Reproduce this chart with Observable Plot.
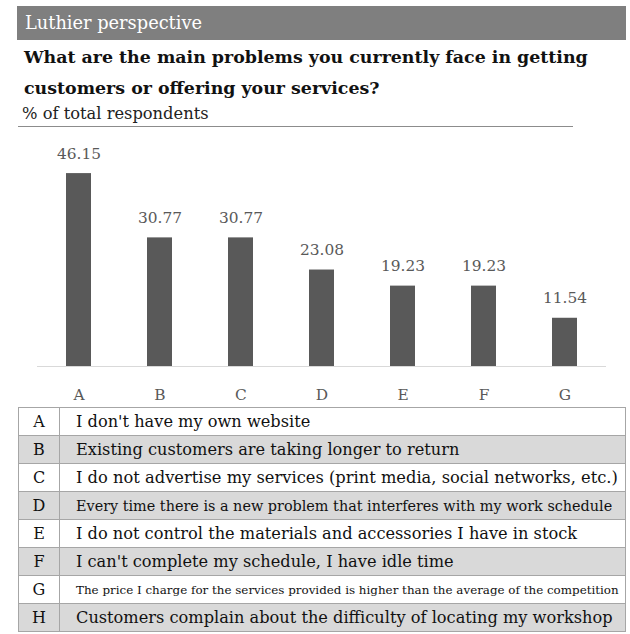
<!DOCTYPE html>
<html>
<head>
<meta charset="utf-8">
<script src="https://cdn.jsdelivr.net/npm/d3@7"></script>
<script src="https://cdn.jsdelivr.net/npm/@observablehq/plot@0.6"></script>
<style>
  body { margin:0; background:#fff; }
  #wrap { position:relative; width:630px; height:634px; font-family:"DejaVu Serif", serif; }
  #hdr { position:absolute; left:17px; top:6px; width:609px; height:34px; background:#7f7f7f; color:#fff;
         font-size:17.8px; line-height:34px; padding-left:8px; box-sizing:border-box; }
  #title { position:absolute; left:24px; top:42px; font-size:17.4px; font-weight:bold; line-height:31px; color:#111; white-space:nowrap; }
  #sub { position:absolute; left:22px; top:104px; font-size:16.3px; line-height:20px; color:#222; }
  #rule { position:absolute; left:18px; top:126px; width:555px; height:0; border-top:1px solid #8c8c8c; }
  #chart { position:absolute; left:0; top:130px; }
  #tbl { position:absolute; left:18px; top:407px; width:608px; border-collapse:collapse; }
  #tbl td { border:1px solid #a6a6a6; height:27px; padding:0; color:#111; font-size:16px; }
  #tbl td.k { width:40px; text-align:center; }
  #tbl td.v { padding-left:16px; white-space:nowrap; }
  #tbl tr.alt td { background:#d9d9d9; }
</style>
</head>
<body>
<div id="wrap">
  <div id="hdr"></div>
  <div id="title"></div>
  <div id="sub"></div>
  <div id="rule"></div>
  <div id="chart"></div>
  <table id="tbl"></table>
</div>
<script>
const headerText = "Luthier perspective";
const titleLines = ["What are the main problems you currently face in getting", "customers or offering your services?"];
const subtitleText = "% of total respondents";

const categories = ["A", "B", "C", "D", "E", "F", "G"];
const values = [46.15, 30.77, 30.77, 23.08, 19.23, 19.23, 11.54];

const tableLetters = ["A", "B", "C", "D", "E", "F", "G", "H"];
const tableLabels = [
  "I don't have my own website",
  "Existing customers are taking longer to return",
  "I do not advertise my services (print media, social networks, etc.)",
  "Every time there is a new problem that interferes with my work schedule",
  "I do not control the materials and accessories I have in stock",
  "I can't complete my schedule, I have idle time",
  "The price I charge for the services provided is higher than the average of the competition",
  "Customers complain about the difficulty of locating my workshop"
];
const tableFontSizes = [16.2, 16.2, 16.3, 14.4, 16.2, 16.2, 11.9, 16.2];

document.getElementById("hdr").textContent = headerText;
const t = document.getElementById("title");
titleLines.forEach((line, i) => {
  if (i) t.appendChild(document.createElement("br"));
  t.appendChild(document.createTextNode(line));
});
document.getElementById("sub").textContent = subtitleText;

const data = categories.map((c, i) => ({cat: c, value: values[i]}));

const chart = Plot.plot({
  width: 630,
  height: 275,
  marginLeft: 37,
  marginRight: 24,
  marginTop: 27,
  marginBottom: 39,
  x: {domain: categories, paddingInner: 0.69, paddingOuter: 0.35, label: null},
  y: {domain: [0, 50], axis: null},
  style: {fontFamily: "DejaVu Serif", fontSize: "15px", color: "#595959", background: "transparent", overflow: "visible"},
  marks: [
    Plot.barY(data, {x: "cat", y: "value", fill: "#595959"}),
    Plot.ruleY([0], {stroke: "#d9d9d9", strokeWidth: 1.2}),
    Plot.text(data, {x: "cat", y: "value", text: d => d.value.toFixed(2), dy: -20, fill: "#595959", fontSize: 15.4}),
    Plot.axisX({tickSize: 0, tickPadding: 23, fontSize: 15.4, label: null, fill: "#595959"})
  ]
});
document.getElementById("chart").appendChild(chart);

const tbl = document.getElementById("tbl");
tableLetters.forEach((k, i) => {
  const tr = document.createElement("tr");
  if (i % 2 === 1) tr.className = "alt";
  const a = document.createElement("td"); a.className = "k"; a.textContent = k;
  const b = document.createElement("td"); b.className = "v"; b.textContent = tableLabels[i];
  b.style.fontSize = tableFontSizes[i] + "px";
  tr.appendChild(a); tr.appendChild(b);
  tbl.appendChild(tr);
});
</script>
</body>
</html>
